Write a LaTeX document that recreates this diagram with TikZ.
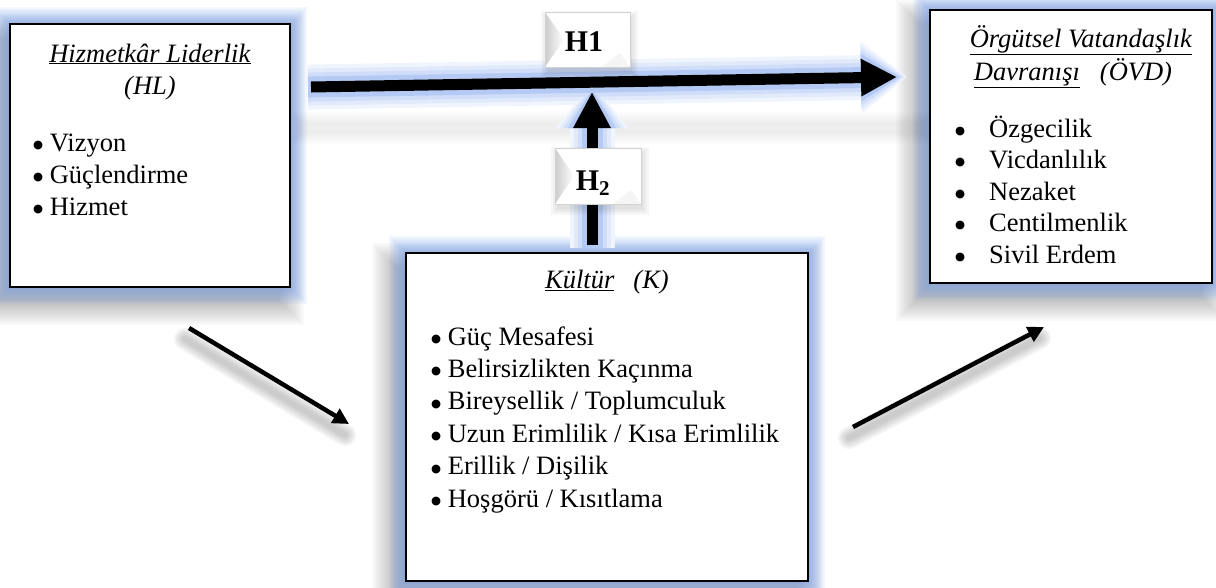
\documentclass[tikz,border=0pt]{standalone}
\usepackage{fontspec}
\setmainfont{Liberation Serif}
\newfontfamily\symfont{DejaVu Sans}
\usetikzlibrary{arrows.meta,backgrounds}
\definecolor{glowc}{RGB}{105,150,235}
\newcommand{\bul}{\raisebox{2.6pt}{\symfont\fontsize{11.5}{11.5}\selectfont ●}}
\begin{document}
\begin{tikzpicture}[x=1pt,y=-1pt,
  box/.style={draw=black, line width=2.5pt, fill=white, inner sep=0pt, outer sep=0pt, anchor=north west},
  txt/.style={inner sep=0pt, anchor=base west, font=\fontsize{26.5}{32}\selectfont},
  ctxt/.style={txt, anchor=base},
  lab/.style={inner sep=0pt, anchor=base, font=\fontsize{30}{36}\selectfont\bfseries},
  lbox/.style={draw=gray!35, line width=0.6pt, fill=white, inner sep=0pt, outer sep=0pt, anchor=north west},
  bigarrow/.style={line width=11pt, -{Triangle[length=36pt,width=35pt]}},
  slimarrow/.style={line width=4.5pt, -{Triangle[length=16pt,width=16pt]}},
]
\useasboundingbox (0,0) rectangle (1216,587);

% boxes
\node[box, minimum width=280pt, minimum height=263pt] (hl) at (10,24) {};
\node[box, minimum width=282pt, minimum height=273pt] (ovd) at (930,10) {};
\node[box, minimum width=402pt, minimum height=328pt] (k) at (406,253) {};

% shadows and glows behind boxes
\begin{scope}[on background layer]
  \foreach \n in {hl,ovd,k}{
    \foreach \e in {0,2,...,24}{
      \fill[black, opacity=0.022] ([shift={(-10-\e,14-\e)}]\n.north west) rectangle ([shift={(-10+\e,14+\e)}]\n.south east);
    }
  }
  \foreach \n in {hl,ovd,k}{
    \foreach \w in {34,30,...,4}{
      \draw[glowc, line width=\w pt, opacity=0.085] (\n.north west) rectangle (\n.south east);
    }
  }
  % faint shadow band under H1
  \foreach \e in {0,2,...,10}{
    \fill[black, opacity=0.012] (300-\e,122-\e) rectangle (925+\e,134+\e);
  }
\end{scope}

% texts: HL
\node[ctxt] (hlt1) at (150,62) {\underline{\textit{Hizmetkâr Liderlik}}};
\node[ctxt] (hlt2) at (150,94) {\textit{(HL)}};
\node[txt] (hl1) at (33,151) {\bul\ Vizyon};
\node[txt] (hl2) at (33,183) {\bul\ Güçlendirme};
\node[txt] (hl3) at (33,215) {\bul\ Hizmet};

% texts: OVD
\node[ctxt] (ovt1) at (1081,47) {\underline{\textit{Örgütsel Vatandaşlık}}};
\node[ctxt] (ovt2) at (1073,80) {\underline{\textit{Davranışı}}\hspace{20pt}\textit{(ÖVD)}};
\node[txt] (ov1) at (955,137) {\makebox[34pt][l]{\bul}Özgecilik};
\node[txt] (ov2) at (955,168.5) {\makebox[34pt][l]{\bul}Vicdanlılık};
\node[txt] (ov3) at (955,200) {\makebox[34pt][l]{\bul}Nezaket};
\node[txt] (ov4) at (955,231.5) {\makebox[34pt][l]{\bul}Centilmenlik};
\node[txt] (ov5) at (955,263) {\makebox[34pt][l]{\bul}Sivil Erdem};

% texts: K
\node[ctxt] (kt) at (607,288) {\underline{\textit{Kültür}}\hspace{19pt}\textit{(K)}};
\node[txt] (k1) at (431,345) {\bul\ Güç Mesafesi};
\node[txt] (k2) at (431,377.4) {\bul\ Belirsizlikten Kaçınma};
\node[txt] (k3) at (431,409.8) {\bul\ Bireysellik / Toplumculuk};
\node[txt] (k4) at (431,442.2) {\bul\ Uzun Erimlilik / Kısa Erimlilik};
\node[txt] (k5) at (431,474.6) {\bul\ Erillik / Dişilik};
\node[txt] (k6) at (431,507) {\bul\ Hoşgörü / Kısıtlama};

% connector end points
\coordinate (h1s) at (311,87);
\coordinate (h1e) at (897,77);
\coordinate (h2s) at ([xshift=-15pt]k.north);
\coordinate (h2e) at (592,92);
\coordinate (l1) at (189,328);
\coordinate (l2) at (349,424);
\coordinate (r1) at (853,427);
\coordinate (r2) at (1044,327);

% glows of big arrows
\foreach \w/\c/\s in {34/glowc!10/10, 26/glowc!20/8, 18/glowc!32/6, 10/glowc!50/3}{
  \draw[\c, line width=11pt+\w pt, -{Triangle[length=36pt+\s pt,width=35pt+\w pt]}, shorten >=-\s pt, shorten <=-3pt] (h1s) -- (h1e);
  \draw[\c, line width=11pt+\w pt, -{Triangle[length=36pt+\s pt,width=35pt+\w pt]}, shorten >=-\s pt, shorten <=5pt] (h2s) -- (h2e);
}
\draw[bigarrow] (h1s) -- (h1e);
\draw[bigarrow, shorten <=8pt] (h2s) -- (h2e);

% thin arrows with soft shadows
\foreach \w in {22,18,14,10,6}{
  \draw[black, opacity=0.045, line width=\w pt, line cap=round] ([shift={(-4,11)}]l1) -- ([shift={(-4,11)}]l2);
  \draw[black, opacity=0.045, line width=\w pt, line cap=round] ([shift={(-4,11)}]r1) -- ([shift={(-4,11)}]r2);
}
\draw[slimarrow] (l1) -- (l2);
\draw[slimarrow] (r1) -- (r2);

% label boxes
\foreach \e in {0,2,4,6}{
  \fill[black, opacity=0.03] (545-\e+2,12-\e+5) rectangle (630+\e+2,67+\e+5);
  \fill[black, opacity=0.03] (555-\e+2,148-\e+5) rectangle (641+\e+2,204+\e+5);
}
\node[lbox, minimum width=85pt, minimum height=55pt] (h1box) at (545,12) {};
\node[lbox, minimum width=86pt, minimum height=56pt] (h2box) at (555,148) {};
\foreach \b in {h1box,h2box}{
  \shade[left color=gray!40, right color=white] (\b.north west) -- ([xshift=19pt]\b.west) -- (\b.south west) -- cycle;
  \fill[gray!8] (\b.south east) -- ([xshift=-28pt]\b.south east) -- ([shift={(-10,-14)}]\b.south east) -- cycle;
  \draw[gray!35, line width=0.6pt] (\b.north west) rectangle (\b.south east);
}
\node[lab] (h1t) at (584,51) {H1};
\node[lab] (h2t) at (593,190) {H\textsubscript{2}};
\end{tikzpicture}
\end{document}
